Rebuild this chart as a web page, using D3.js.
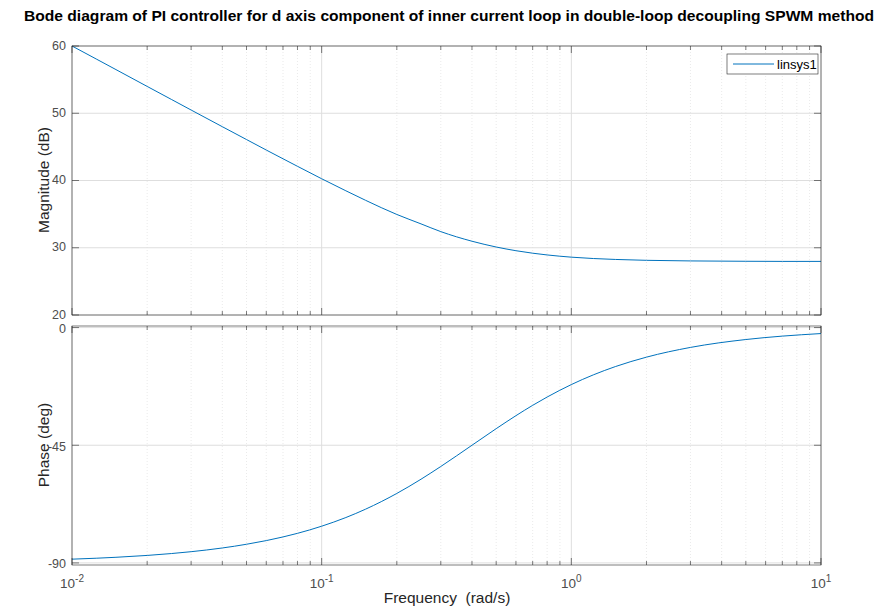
<!DOCTYPE html>
<html><head><meta charset="utf-8">
<script src="https://cdn.jsdelivr.net/npm/d3@7"></script>
<style>body{margin:0;background:#fff;}svg{display:block;font-family:"Liberation Sans",Arial,Helvetica,sans-serif;}</style>
</head><body>
<svg id="c" width="884" height="613"></svg>
<script>
const freq = [0.01,0.0125,0.015,0.02,0.025,0.03,0.04,0.05,0.06,0.07,0.08,0.1,0.125,0.15,0.2,0.25,0.3,0.4,0.5,0.6,0.7,0.8,1,1.5,2,3,5,7,10];
const magDb = [60.00,58.07,56.49,53.99,52.06,50.48,48.00,46.09,44.53,43.23,42.11,40.26,38.47,37.05,34.95,33.55,32.40,30.97,30.11,29.56,29.19,28.93,28.60,28.26,28.13,28.04,27.99,27.97,27.97];
const phaseDeg = [-88.57,-88.21,-87.85,-87.14,-86.42,-85.71,-84.29,-82.87,-81.47,-80.07,-78.69,-75.96,-72.65,-69.44,-63.43,-57.99,-53.13,-45.00,-38.66,-33.69,-29.74,-26.57,-21.80,-14.93,-11.31,-7.59,-4.57,-3.27,-2.29];
const magTicks = [20,30,40,50,60];
const phaseTicks = [-90,-45,0];
const xMajor = [0.01,0.1,1,10];
const xTickExp = ["-2","-1","0","1"];
const title = "Bode diagram of PI controller for d axis component of inner current loop in double-loop decoupling SPWM method";
const legendLabel = "linsys1";

const svg = d3.select("#c");
const L = 72, R = 821;
const x = d3.scaleLog().domain([0.01,10]).range([L,R]);
const yM = d3.scaleLinear().domain([20,60]).range([315,46]);
const yP = d3.scaleLinear().domain([-90.8,0.6]).range([565,326]);
const xMinor = x.ticks().filter(v => !xMajor.some(m => Math.abs(m-v)/m < 1e-6));
const axisCol = "#262626", gridCol = "#dedede", tickTxt = "#4d4d4d";
const blue = "#0072BD";

function panel(y, yTicks, vals, showX, labelDy) {
  const [b, t] = y.range();
  const g = svg.append("g");
  g.selectAll(".mg").data(xMinor).enter().append("line")
    .attr("x1", d=>x(d)).attr("x2", d=>x(d)).attr("y1", t).attr("y2", b)
    .attr("stroke", "#e4e4e4").attr("stroke-width", 0.8).attr("stroke-dasharray", "1,2");
  g.selectAll(".xg").data(xMajor).enter().append("line")
    .attr("x1", d=>x(d)).attr("x2", d=>x(d)).attr("y1", t).attr("y2", b)
    .attr("stroke", gridCol).attr("stroke-width", 1);
  g.selectAll(".yg").data(yTicks).enter().append("line")
    .attr("x1", L).attr("x2", R).attr("y1", d=>y(d)).attr("y2", d=>y(d))
    .attr("stroke", gridCol).attr("stroke-width", 1);
  const line = d3.line().x((d,i)=>x(freq[i])).y(d=>y(d)).curve(d3.curveMonotoneX);
  g.append("path").datum(vals).attr("d", line).attr("fill","none").attr("stroke", blue).attr("stroke-width", 1);
  g.append("rect").attr("x", L).attr("y", t).attr("width", R-L).attr("height", b-t)
    .attr("fill","none").attr("stroke", axisCol).attr("stroke-width", 0.6);
  [[xMajor,7],[xMinor,4]].forEach(([arr,len]) => {
    g.selectAll(null).data(arr).enter().append("line")
      .attr("x1", d=>x(d)).attr("x2", d=>x(d)).attr("y1", b).attr("y2", b-len)
      .attr("stroke", axisCol).attr("stroke-width", 0.6);
    g.selectAll(null).data(arr).enter().append("line")
      .attr("x1", d=>x(d)).attr("x2", d=>x(d)).attr("y1", t).attr("y2", t+len)
      .attr("stroke", axisCol).attr("stroke-width", 0.6);
  });
  g.selectAll(null).data(yTicks).enter().append("line")
    .attr("x1", L).attr("x2", L+7).attr("y1", d=>y(d)).attr("y2", d=>y(d))
    .attr("stroke", axisCol).attr("stroke-width", 0.6);
  g.selectAll(null).data(yTicks).enter().append("line")
    .attr("x1", R).attr("x2", R-7).attr("y1", d=>y(d)).attr("y2", d=>y(d))
    .attr("stroke", axisCol).attr("stroke-width", 0.6);
  g.selectAll(null).data(yTicks).enter().append("text")
    .attr("x", L-6).attr("y", d=>y(d)+labelDy).attr("text-anchor","end")
    .attr("font-size", 12.5).attr("fill", tickTxt).text(d=>d);
  if (showX) {
    xMajor.forEach((v,i) => {
      const tx = g.append("text").attr("x", x(v)).attr("y", b+23).attr("text-anchor","middle")
        .attr("font-size", 13.5).attr("fill", tickTxt);
      tx.append("tspan").text("10");
      tx.append("tspan").attr("dy", -6).attr("font-size", 10).text(xTickExp[i]);
    });
  }
}
panel(yM, magTicks, magDb, false, 3.5);
panel(yP, phaseTicks, phaseDeg, true, 5.5);

svg.append("text").attr("x", 449).attr("y", 21).attr("text-anchor","middle")
  .attr("font-size", 14).attr("font-weight","bold").attr("fill","#000")
  .attr("textLength", 850).attr("lengthAdjust","spacingAndGlyphs").text(title);
svg.append("text").attr("transform","translate(49,180) rotate(-90)").attr("text-anchor","middle")
  .attr("font-size", 15.5).attr("fill","#262626").text("Magnitude (dB)");
svg.append("text").attr("transform","translate(49,445) rotate(-90)").attr("text-anchor","middle")
  .attr("font-size", 15.5).attr("fill","#262626").text("Phase (deg)");
svg.append("text").attr("x", 447).attr("y", 603).attr("text-anchor","middle")
  .attr("font-size", 15.5).attr("fill","#262626").attr("xml:space","preserve").text("Frequency  (rad/s)");

const lg = svg.append("g");
lg.append("rect").attr("x", 727).attr("y", 54).attr("width", 91).attr("height", 20)
  .attr("fill","#fff").attr("stroke", axisCol).attr("stroke-width", 0.6);
lg.append("line").attr("x1", 733).attr("x2", 774).attr("y1", 64).attr("y2", 64)
  .attr("stroke", blue).attr("stroke-width", 1);
lg.append("text").attr("x", 777).attr("y", 69).attr("font-size", 13).attr("fill","#000").text(legendLabel);
</script>
</body></html>
